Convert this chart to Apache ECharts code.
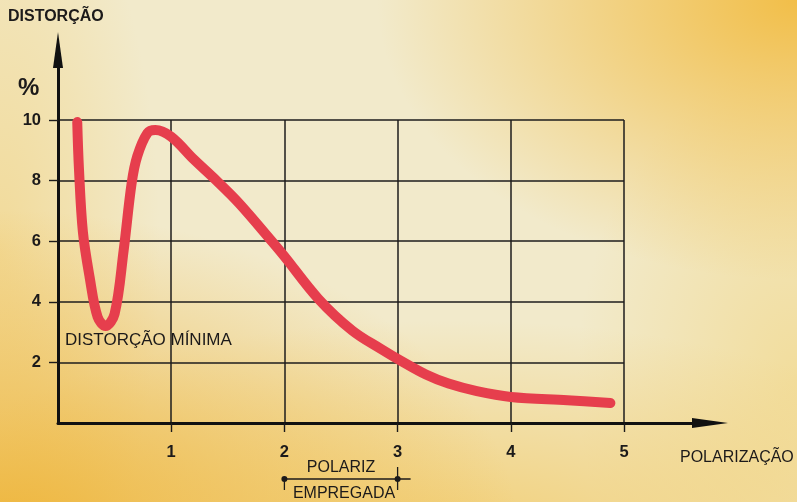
<!DOCTYPE html>
<html>
<head>
<meta charset="utf-8">
<script src="https://cdn.jsdelivr.net/npm/echarts@6/dist/echarts.min.js"></script>
<style>
html,body{margin:0;padding:0;}
#c{width:797px;height:502px;
background:
 radial-gradient(ellipse 520px 330px at 0px 540px, rgba(238,178,50,0.95), rgba(238,178,50,0) 100%),
 radial-gradient(ellipse 420px 280px at 797px 0px, rgba(242,188,66,0.95), rgba(242,188,66,0) 100%),
 radial-gradient(ellipse 560px 220px at 450px 540px, rgba(242,200,96,0.8), rgba(242,200,96,0) 100%),
 radial-gradient(ellipse 160px 420px at 0px 250px, rgba(242,208,120,0.6), rgba(242,208,120,0) 100%),
 radial-gradient(ellipse 220px 320px at 797px 380px, rgba(242,212,125,0.6), rgba(242,212,125,0) 100%),
 #f2eacb;}
</style>
</head>
<body>
<div id="c"></div>
<script>
// data
const polarizacao = [0.17, 0.185, 0.22, 0.28, 0.35, 0.42, 0.5, 0.58, 0.65, 0.7, 0.79, 0.86, 1.0, 1.2, 1.4, 1.6, 1.9, 2.0, 2.3, 2.6, 2.85, 3.03, 3.25, 3.45, 3.7, 4.0, 4.5, 4.88];
const distorcao   = [9.93, 8.4, 6.3, 4.8, 3.5, 3.2, 3.6, 5.7, 7.9, 8.8, 9.57, 9.67, 9.45, 8.7, 8.0, 7.25, 5.95, 5.5, 4.1, 3.05, 2.45, 2.05, 1.6, 1.3, 1.05, 0.86, 0.75, 0.66];
const xTicks = [1, 2, 3, 4, 5];
const yTicks = [2, 4, 6, 8, 10];

const FONT = '"Liberation Sans", Arial, sans-serif';
const INK = '#1c1a1a';
const chart = echarts.init(document.getElementById('c'), null, {renderer: 'canvas'});

const curve = polarizacao.map((x, i) => [x, distorcao[i]]);

chart.setOption({
  backgroundColor: 'transparent',
  animation: false,
  grid: [
    {left: 58, top: 120, width: 566, height: 303},
    {left: 58, top: 50, right: 87, bottom: 79}
  ],
  xAxis: [
    {type: 'value', gridIndex: 0, min: 0, max: 5, interval: 1,
     axisLine: {show: false},
     axisTick: {show: true, length: 9, customValues: xTicks, lineStyle: {color: INK, width: 1.4}},
     axisLabel: {customValues: xTicks, margin: 21, color: INK, fontFamily: FONT, fontWeight: 'bold', fontSize: 16.5},
     splitLine: {show: true, lineStyle: {color: '#1e1c1c', width: 1.5}}},
    {type: 'value', gridIndex: 1, min: 0, max: 1,
     axisLine: {show: true, symbol: ['none', 'triangle'], symbolSize: [10, 36], lineStyle: {color: '#111', width: 3}},
     axisTick: {show: false}, axisLabel: {show: false}, splitLine: {show: false}}
  ],
  yAxis: [
    {type: 'value', gridIndex: 0, min: 0, max: 10, interval: 2,
     axisLine: {show: false},
     axisTick: {show: true, length: 9, customValues: yTicks, lineStyle: {color: INK, width: 1.4}},
     axisLabel: {customValues: yTicks, margin: 17, color: INK, fontFamily: FONT, fontWeight: 'bold', fontSize: 16.5},
     splitLine: {show: true, lineStyle: {color: '#1e1c1c', width: 1.5}}},
    {type: 'value', gridIndex: 1, min: 0, max: 1,
     axisLine: {show: true, symbol: ['none', 'triangle'], symbolSize: [10, 36], lineStyle: {color: '#111', width: 3}},
     axisTick: {show: false}, axisLabel: {show: false}, splitLine: {show: false}}
  ],
  series: [{
    type: 'line', xAxisIndex: 0, yAxisIndex: 0,
    data: curve, smooth: 0.35, showSymbol: false, clip: false,
    lineStyle: {color: '#e63e4d', width: 10, cap: 'round', join: 'round'}
  }]
});

const x2 = chart.convertToPixel({xAxisIndex: 0}, 2);
const x3 = chart.convertToPixel({xAxisIndex: 0}, 3);
const mid = (x2 + x3) / 2;
const by = 479;

chart.setOption({
  graphic: [
    {type: 'text', left: 8, top: 9, style: {text: 'DISTORÇÃO', font: 'bold 16px ' + FONT, fill: INK}},
    {type: 'text', left: 18, top: 76, style: {text: '%', font: 'bold 24px ' + FONT, fill: INK}},
    {type: 'text', left: 65, top: 332, style: {text: 'DISTORÇÃO MÍNIMA', font: '17px ' + FONT, fill: INK}},
    {type: 'text', left: 680, top: 450, style: {text: 'POLARIZAÇÃO', font: '16px ' + FONT, fill: INK}},
    {type: 'text', x: mid, y: 468, style: {text: 'POLARIZ', font: '16px ' + FONT, fill: INK, align: 'center', verticalAlign: 'middle'}},
    {type: 'text', x: mid + 3, y: 494, style: {text: 'EMPREGADA', font: '16px ' + FONT, fill: INK, align: 'center', verticalAlign: 'middle'}},
    {type: 'line', shape: {x1: x2, y1: by, x2: x3 + 13, y2: by}, style: {stroke: INK, lineWidth: 1.3}},
    {type: 'line', shape: {x1: x2, y1: by, x2: x2, y2: by + 11}, style: {stroke: INK, lineWidth: 1.3}},
    {type: 'line', shape: {x1: x3, y1: by - 12, x2: x3, y2: by + 11}, style: {stroke: INK, lineWidth: 1.3}},
    {type: 'circle', shape: {cx: x2, cy: by, r: 3}, style: {fill: INK}},
    {type: 'circle', shape: {cx: x3, cy: by, r: 3}, style: {fill: INK}}
  ]
});
</script>
</body>
</html>
